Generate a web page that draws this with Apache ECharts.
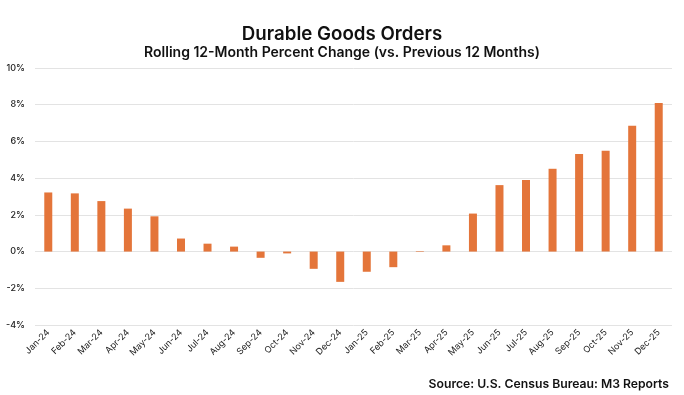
<!DOCTYPE html>
<html><head><meta charset="utf-8">
<script src="https://cdn.jsdelivr.net/npm/echarts@6/dist/echarts.min.js"></script>
<style>html,body{margin:0;padding:0;background:#fff}#c{width:684px;height:395px}</style>
</head><body><div id="c"></div>
<script>
const categories = ["Jan-24","Feb-24","Mar-24","Apr-24","May-24","Jun-24","Jul-24","Aug-24","Sep-24","Oct-24","Nov-24","Dec-24","Jan-25","Feb-25","Mar-25","Apr-25","May-25","Jun-25","Jul-25","Aug-25","Sep-25","Oct-25","Nov-25","Dec-25"];
const values = [3.22,3.17,2.75,2.34,1.92,0.71,0.43,0.27,-0.34,-0.10,-0.94,-1.65,-1.10,-0.85,0.03,0.34,2.07,3.62,3.90,4.51,5.31,5.49,6.85,8.10];
const yTicks = [-4,-2,0,2,4,6,8,10];
const chart = echarts.init(document.getElementById('c'));
chart.setOption({
  animation:false,
  title:[
    {text:'Durable Goods Orders',left:'center',top:20,textStyle:{fontFamily:'Inter',fontSize:18.7,fontWeight:600,color:'#111'}},
    {text:'Rolling 12-Month Percent Change (vs. Previous 12 Months)',left:'center',top:41,textStyle:{fontFamily:'Inter',fontSize:14,fontWeight:600,color:'#111'}},
    {text:'Source: U.S. Census Bureau: M3 Reports',right:10,top:373,textStyle:{fontFamily:'Inter',fontSize:12.2,fontWeight:600,color:'#111'}}
  ],
  grid:{left:35,right:12,top:68,bottom:70,containLabel:false},
  xAxis:{type:'category',data:categories,
    axisLine:{show:false},axisTick:{show:false},
    axisLabel:{rotate:45,interval:0,fontFamily:'Inter',fontSize:9,color:'#222',margin:6}},
  yAxis:{type:'value',min:yTicks[0],max:yTicks[yTicks.length-1],interval:2,
    axisLabel:{formatter:v=>v+'%',fontFamily:'Inter',fontSize:9,fontWeight:500,color:'#222',margin:10},
    splitLine:{lineStyle:{color:'#e3e3e3',width:1}},axisLine:{show:false},axisTick:{show:false}},
  series:[{type:'bar',data:values,barWidth:8,itemStyle:{color:'#E4753A'}}]
});
</script></body></html>
